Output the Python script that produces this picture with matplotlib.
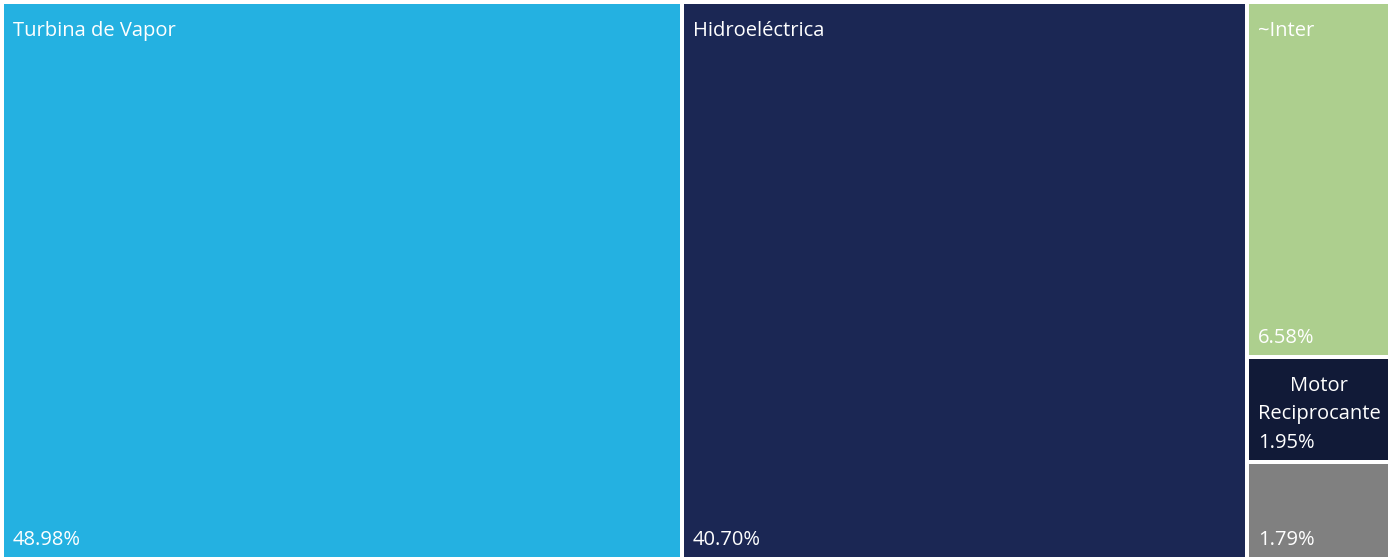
import matplotlib
matplotlib.use('Agg')
import matplotlib.pyplot as plt
from matplotlib.patches import Rectangle

# data
names = ['Turbina de Vapor', 'Hidroeléctrica', '~Inter', 'Motor\nReciprocante', '']
shares = [48.98, 40.70, 6.58, 1.95, 1.79]
colors = ['#24B1E1', '#1B2754', '#ADCF8E', '#111A37', '#808080']

W, H = 1390, 559
plt.rcParams['font.family'] = ['Open Sans', 'DejaVu Sans']


def worst(row, side):
    s = sum(row)
    return max(max(side * side * r / (s * s), s * s / (side * side * r)) for r in row)


def squarify(vals, x, y, w, h):
    # vals already scaled to area
    rects = []
    vals = list(vals)
    while vals:
        side = min(w, h)
        row = [vals.pop(0)]
        while vals and worst(row + [vals[0]], side) <= worst(row, side):
            row.append(vals.pop(0))
        s = sum(row)
        if w >= h:
            rw = s / h
            yy = y
            for r in row:
                rh = r / rw
                rects.append((x, yy, rw, rh))
                yy += rh
            x += rw
            w -= rw
        else:
            rh = s / w
            xx = x
            for r in row:
                rw = r / rh
                rects.append((xx, y, rw, rh))
                xx += rw
            y += rh
            h -= rh
    return rects


x0, y0, w0, h0 = 2, 2, 1388, 557
total = sum(shares)
areas = [v / total * w0 * h0 for v in shares]
rects = squarify(areas, x0, y0, w0, h0)

fig = plt.figure(figsize=(W / 100, H / 100), dpi=100)
ax = fig.add_axes([0, 0, 1, 1])
ax.set_xlim(0, W)
ax.set_ylim(H, 0)
ax.axis('off')

gap = 2
fs = 14.5
for (x, y, w, h), n, v, c in zip(rects, names, shares, colors):
    ax.add_patch(Rectangle((x + gap, y + gap), w - 2 * gap, h - 2 * gap, color=c, lw=0))
    if n:
        ax.text(x + gap + 9, y + gap + 17, n, color='white', fontsize=fs,
                ha='left', va='top', multialignment='center', linespacing=1.5)
    ax.text(x + gap + 9, y + h - gap - 7, f'{v:.2f}%', color='white', fontsize=fs,
            ha='left', va='bottom')

fig.savefig('out.png', dpi=100)
